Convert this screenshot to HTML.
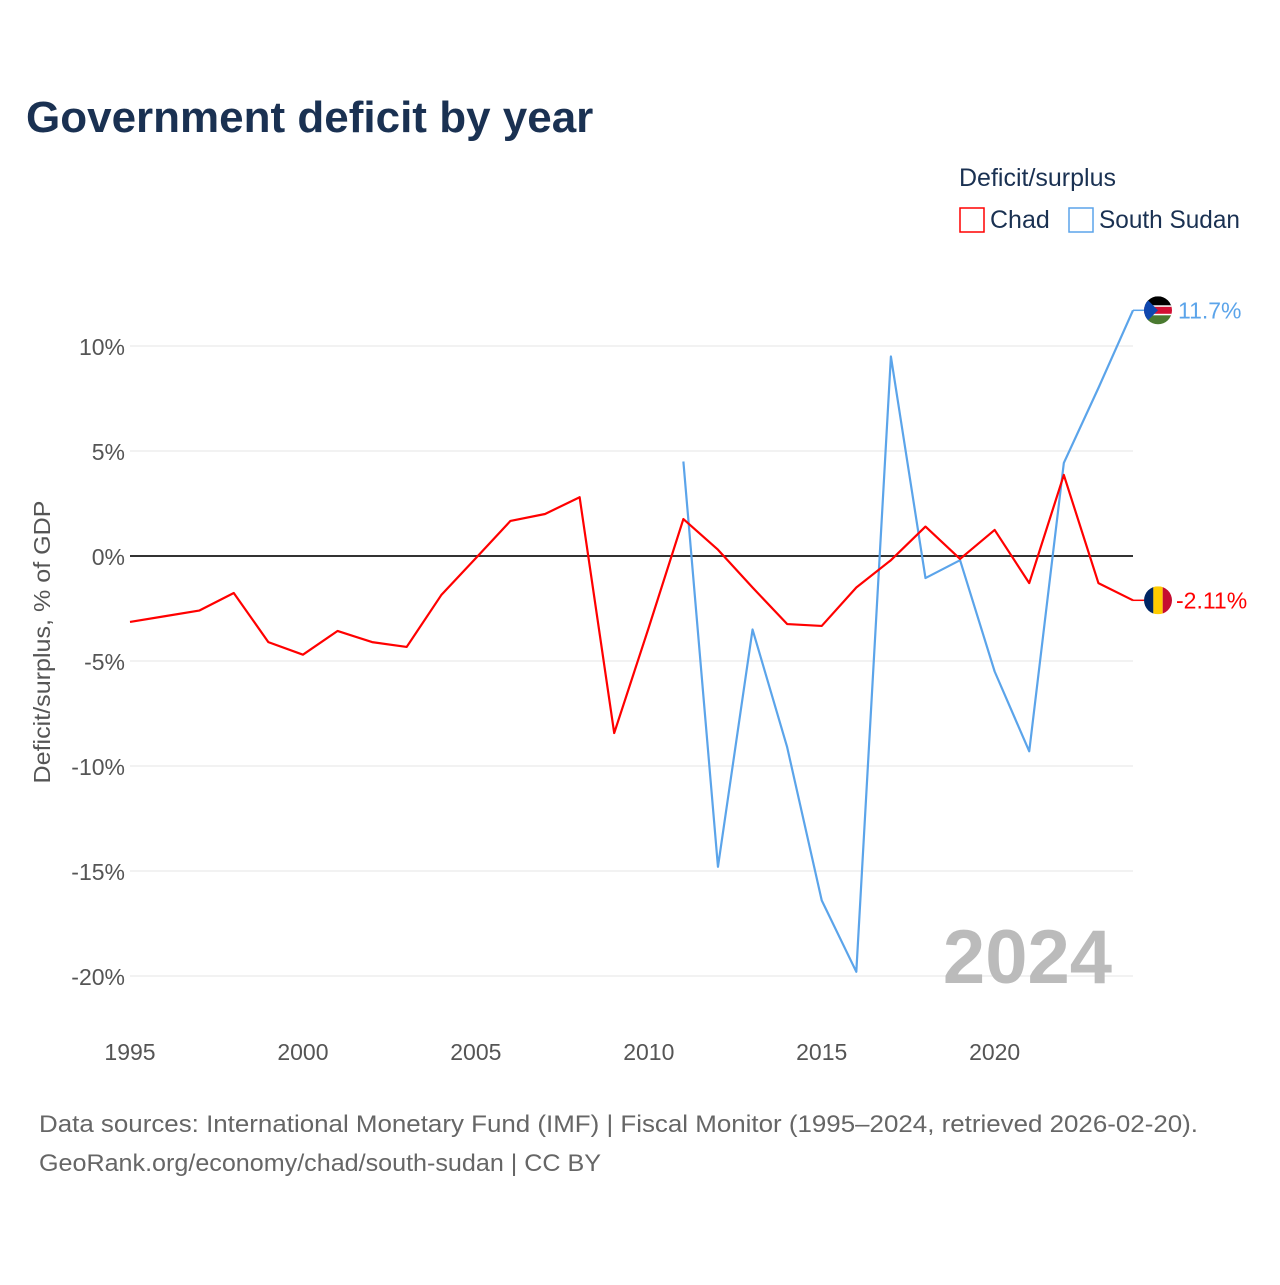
<!DOCTYPE html>
<html><head><meta charset="utf-8"><style>
body{margin:0;background:#fff;font-family:"Liberation Sans",sans-serif;}
svg text{font-family:"Liberation Sans",sans-serif;}
</style></head><body>
<svg id="c" width="1280" height="1280" viewBox="0 0 1280 1280">
<text x="26" y="132" font-size="44" font-weight="bold" fill="#1a3152">Government deficit by year</text>
<text x="959" y="186" font-size="25" fill="#1a3152">Deficit/surplus</text>
<g><rect x="960" y="208" width="24" height="24" fill="none" stroke="#f00" stroke-width="1.5"/><text x="990" y="228" font-size="25" fill="#1a3152">Chad</text></g>
<g><rect x="1069" y="208" width="24" height="24" fill="none" stroke="#5ba4ea" stroke-width="1.5"/><text x="1099" y="228" font-size="25" fill="#1a3152" textLength="141" lengthAdjust="spacingAndGlyphs">South Sudan</text></g>
<text transform="translate(50,642) rotate(-90)" text-anchor="middle" font-size="23" fill="#555" textLength="283" lengthAdjust="spacingAndGlyphs">Deficit/surplus, % of GDP</text>
<g id="grid"></g><g id="series"></g>
<text x="1112" y="983" text-anchor="end" font-size="76" font-weight="bold" fill="#bbb">2024</text>
<text x="39" y="1132" font-size="24" fill="#666" textLength="1159" lengthAdjust="spacingAndGlyphs">Data sources: International Monetary Fund (IMF) | Fiscal Monitor (1995–2024, retrieved 2026-02-20).</text>
<text x="39" y="1171" font-size="24" fill="#666" textLength="562" lengthAdjust="spacingAndGlyphs">GeoRank.org/economy/chad/south-sudan | CC BY</text>
</svg>
<script>
const years=[1995,1996,1997,1998,1999,2000,2001,2002,2003,2004,2005,2006,2007,2008,2009,2010,2011,2012,2013,2014,2015,2016,2017,2018,2019,2020,2021,2022,2023,2024];
const chad=[-3.14,-2.87,-2.6,-1.76,-4.1,-4.7,-3.57,-4.1,-4.33,-1.86,-0.1,1.67,2.0,2.8,-8.43,-3.4,1.76,0.3,-1.5,-3.24,-3.33,-1.5,-0.2,1.4,-0.14,1.24,-1.29,3.86,-1.29,-2.11];
const ssYears=[2011,2012,2013,2014,2015,2016,2017,2018,2019,2020,2021,2022,2023,2024];
const southSudan=[4.5,-14.8,-3.5,-9.1,-16.4,-19.8,9.5,-1.05,-0.2,-5.5,-9.3,4.43,8.0,11.7];
const yTicks=[10,5,0,-5,-10,-15,-20];
const xTicks=[1995,2000,2005,2010,2015,2020];
const X=y=>130+(y-1995)*(1133-130)/29;
const Y=v=>556-v*21;
const NS="http://www.w3.org/2000/svg";
function mk(t,a,p){const e=document.createElementNS(NS,t);for(const k in a)e.setAttribute(k,a[k]);p.appendChild(e);return e;}
const g=document.getElementById('grid'),s=document.getElementById('series');
yTicks.forEach(v=>{
 const l=mk('line',{x1:130,x2:1133,y1:Y(v),y2:Y(v),stroke:v===0?'#333':'#e6e6e6','stroke-width':v===0?2:1},g);
 
 
 const t=mk('text',{x:125,y:Y(v)+9,'text-anchor':'end','font-size':23,fill:'#555'},g);t.textContent=v+'%';
 
 
});
xTicks.forEach(v=>{
 const t=mk('text',{x:X(v),y:1060,'text-anchor':'middle','font-size':23,fill:'#555'},g);t.textContent=v;
 
 
});
function line(xs,vs,col,name){
 const p=mk('polyline',{points:xs.map((x,i)=>X(x)+','+Y(vs[i])).join(' '),fill:'none',stroke:col,'stroke-width':2.2,'stroke-linejoin':'round'},s);
 
 
}
line(ssYears,southSudan,'#5ba4ea','south-sudan-line');
line(years,chad,'#f00','chad-line');
const cy1=Y(southSudan[southSudan.length-1]),cy2=Y(chad[chad.length-1]);
const ex=1158;
const f1=mk('g',{},s);


const cp1=mk('clipPath',{id:'cp1'},f1);mk('circle',{cx:ex,cy:cy1,r:14},cp1);
const fg=mk('g',{'clip-path':'url(#cp1)'},f1);
mk('rect',{x:ex-14,y:cy1-14,width:28,height:10,fill:'#000'},fg);
mk('rect',{x:ex-14,y:cy1-4,width:28,height:8,fill:'#d21034'},fg);
mk('rect',{x:ex-14,y:cy1-5,width:28,height:1.5,fill:'#fff'},fg);
mk('rect',{x:ex-14,y:cy1+3.5,width:28,height:1.5,fill:'#fff'},fg);
mk('rect',{x:ex-14,y:cy1+5,width:28,height:10,fill:'#4a7a30'},fg);
mk('polygon',{points:`${ex-14},${cy1-14} ${ex},${cy1} ${ex-14},${cy1+14}`,fill:'#0f47af'},fg);
const t1=mk('text',{x:1178,y:cy1+8,'font-size':23,fill:'#5ba4ea'},s);t1.textContent=southSudan[southSudan.length-1]+'%';


const f2=mk('g',{},s);


const cp2=mk('clipPath',{id:'cp2'},f2);mk('circle',{cx:ex,cy:cy2,r:14},cp2);
const fg2=mk('g',{'clip-path':'url(#cp2)'},f2);
mk('rect',{x:ex-14,y:cy2-14,width:9.4,height:28,fill:'#002664'},fg2);
mk('rect',{x:ex-4.7,y:cy2-14,width:9.4,height:28,fill:'#fecb00'},fg2);
mk('rect',{x:ex+4.7,y:cy2-14,width:9.4,height:28,fill:'#c60c30'},fg2);
const t2=mk('text',{x:1176,y:cy2+8,'font-size':23,fill:'#f00'},s);t2.textContent=chad[chad.length-1]+'%';


mk('line',{x1:1133,y1:cy1,x2:1144,y2:cy1,stroke:'#5ba4ea','stroke-width':1.5},s);
mk('line',{x1:1133,y1:cy2,x2:1144,y2:cy2,stroke:'#f00','stroke-width':1.5},s);
</script>
</body></html>
